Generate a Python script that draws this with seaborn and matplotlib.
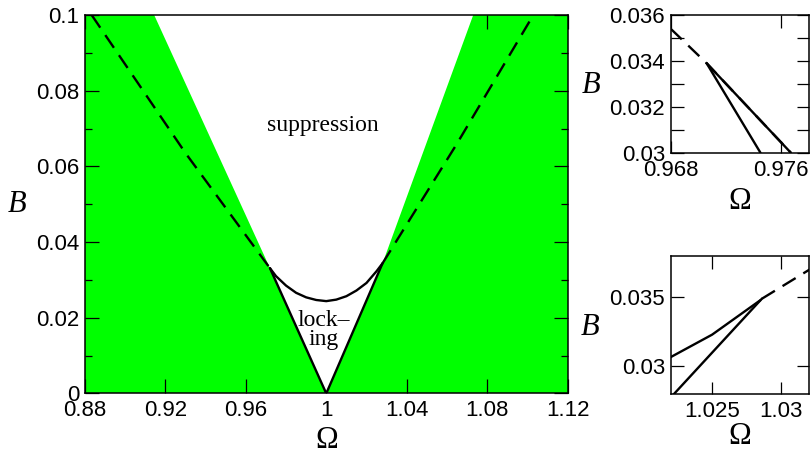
import numpy as np
import pandas as pd
import matplotlib
matplotlib.use("Agg")
import matplotlib.pyplot as plt
import seaborn as sns
from matplotlib.ticker import FixedLocator, MultipleLocator

# main panel curves (Omega, B)
arc_omega = [0.972, 0.975, 0.98, 0.985, 0.99, 0.995, 1.0, 1.005, 1.01, 1.015, 1.02, 1.025, 1.028]
arc_b = [0.0331, 0.0310, 0.0285, 0.0266, 0.0254, 0.0247, 0.0244, 0.0248, 0.0257, 0.0272, 0.0292, 0.0323, 0.0344]

vline_omega = [0.972, 1.0, 1.028]
vline_b = [0.0331, 0.0, 0.0344]

dash_left_omega = [0.8833, 0.93, 0.972]
dash_left_b = [0.1, 0.0635, 0.0331]
dash_right_omega = [1.028, 1.065, 1.103]
dash_right_b = [0.0344, 0.0660, 0.1]

# white (non-green) region boundary
white_omega = [0.9144, 0.972, 1.0, 1.028, 1.0731]
white_b = [0.1, 0.0331, 0.0, 0.0344, 0.1]

# top inset (left junction)
in1_dash_omega = [0.968, 0.9706, 0.9767]
in1_dash_b = [0.0354, 0.0339, 0.0300]
in1_arc_omega = [0.9706, 0.9767]
in1_arc_b = [0.0339, 0.0300]
in1_v_omega = [0.9706, 0.9745]
in1_v_b = [0.0339, 0.0300]

# bottom inset (right junction)
in2_arc_omega = [1.0215, 1.025, 1.0285]
in2_arc_b = [0.0304, 0.0323, 0.0348]
in2_v_omega = [1.0215, 1.0286]
in2_v_b = [0.0272, 0.0349]
in2_dash_omega = [1.0286, 1.0335]
in2_dash_b = [0.0349, 0.0379]

main_xticks = [0.88, 0.92, 0.96, 1.0, 1.04, 1.08, 1.12]
main_xlabels = ["0.88", "0.92", "0.96", "1", "1.04", "1.08", "1.12"]
main_yticks = [0, 0.02, 0.04, 0.06, 0.08, 0.1]
main_ylabels = ["0", "0.02", "0.04", "0.06", "0.08", "0.1"]
in1_xticks, in1_xlabels = [0.968, 0.976], ["0.968", "0.976"]
in1_yticks, in1_ylabels = [0.03, 0.032, 0.034, 0.036], ["0.03", "0.032", "0.034", "0.036"]
in2_xticks, in2_xlabels = [1.025, 1.03], ["1.025", "1.03"]
in2_yticks, in2_ylabels = [0.03, 0.035], ["0.03", "0.035"]

sns.set_style("ticks")
plt.rcParams['font.family'] = ['Liberation Sans', 'DejaVu Sans']
plt.rcParams['text.color'] = 'black'
plt.rcParams['xtick.color'] = 'black'
plt.rcParams['ytick.color'] = 'black'
plt.rcParams['xtick.labelcolor'] = 'black'
plt.rcParams['ytick.labelcolor'] = 'black'

GREEN = "#00ff00"
LW = 1.7
DASH = (6.5, 3.8)
serif = ['Liberation Serif', 'DejaVu Serif']

fig = plt.figure(figsize=(8.11, 4.54), dpi=100)
ax = fig.add_axes([0.1048, 0.1333, 0.5950, 0.8337])
ax1 = fig.add_axes([0.827, 0.6637, 0.1702, 0.3033])
ax2 = fig.add_axes([0.827, 0.1322, 0.1702, 0.3039])


def curve(axis, xs, ys, dashed=False):
    df = pd.DataFrame({"omega": xs, "B": ys})
    sns.lineplot(data=df, x="omega", y="B", ax=axis, color="black", lw=LW,
                 sort=False, estimator=None, zorder=3)
    if dashed:
        axis.lines[-1].set_dashes(DASH)


def style(axis, xt, xl, yt, yl, major_len, minor_len):
    axis.xaxis.set_major_locator(FixedLocator(xt))
    axis.set_xticklabels(xl)
    axis.yaxis.set_major_locator(FixedLocator(yt))
    axis.set_yticklabels(yl)
    axis.tick_params(which="both", direction="in", top=True, right=True,
                     width=0.9, color="black", labelcolor="black", labelsize=16)
    axis.tick_params(which="major", length=major_len)
    axis.tick_params(which="minor", length=minor_len)
    axis.tick_params(axis="x", pad=5)
    axis.tick_params(axis="y", pad=4)
    for s in axis.spines.values():
        s.set_linewidth(1.1)
        s.set_color("black")
        s.set_visible(True)
    axis.set_xlabel("")
    axis.set_ylabel("")


# main panel
ax.set_facecolor(GREEN)
ax.fill(white_omega, white_b, color="white", lw=0, zorder=1)
curve(ax, arc_omega, arc_b)
curve(ax, vline_omega, vline_b)
curve(ax, dash_left_omega, dash_left_b, dashed=True)
curve(ax, dash_right_omega, dash_right_b, dashed=True)
ax.set_xlim(0.88, 1.12)
ax.set_ylim(0, 0.1)
ax.yaxis.set_minor_locator(MultipleLocator(0.01))
style(ax, main_xticks, main_xlabels, main_yticks, main_ylabels, 10, 5)
ax.text(0.9985, 0.0709, "suppression", family=serif, fontsize=17,
        ha="center", va="center", zorder=4)
ax.text(0.9985, 0.0167, "lock\u2013\ning", family=serif, fontsize=17,
        ha="center", va="center", linespacing=0.85, zorder=4)
ax.text(-0.141, 0.5, "B", transform=ax.transAxes, family=serif, style="italic",
        fontsize=22, ha="center", va="center")
ax.text(0.5, -0.124, "\u03a9", transform=ax.transAxes, family=serif,
        fontsize=22, ha="center", va="center")

# top inset
curve(ax1, in1_dash_omega, in1_dash_b, dashed=True)
curve(ax1, in1_arc_omega, in1_arc_b)
curve(ax1, in1_v_omega, in1_v_b)
ax1.set_xlim(0.968, 0.978)
ax1.set_ylim(0.030, 0.036)
ax1.yaxis.set_minor_locator(MultipleLocator(0.001))
style(ax1, in1_xticks, in1_xlabels, in1_yticks, in1_ylabels, 9, 9)
ax1.text(-0.578, 0.49, "B", transform=ax1.transAxes, family=serif, style="italic",
         fontsize=22, ha="center", va="center")
ax1.text(0.502, -0.351, "\u03a9", transform=ax1.transAxes, family=serif,
         fontsize=22, ha="center", va="center")

# bottom inset
curve(ax2, in2_arc_omega, in2_arc_b)
curve(ax2, in2_v_omega, in2_v_b)
curve(ax2, in2_dash_omega, in2_dash_b, dashed=True)
ax2.set_xlim(1.022, 1.032)
ax2.set_ylim(0.028, 0.038)
style(ax2, in2_xticks, in2_xlabels, in2_yticks, in2_ylabels, 9, 9)
ax2.text(-0.585, 0.482, "B", transform=ax2.transAxes, family=serif, style="italic",
         fontsize=22, ha="center", va="center")
ax2.text(0.5, -0.309, "\u03a9", transform=ax2.transAxes, family=serif,
         fontsize=22, ha="center", va="center")

fig.savefig("out.png", dpi=100)
